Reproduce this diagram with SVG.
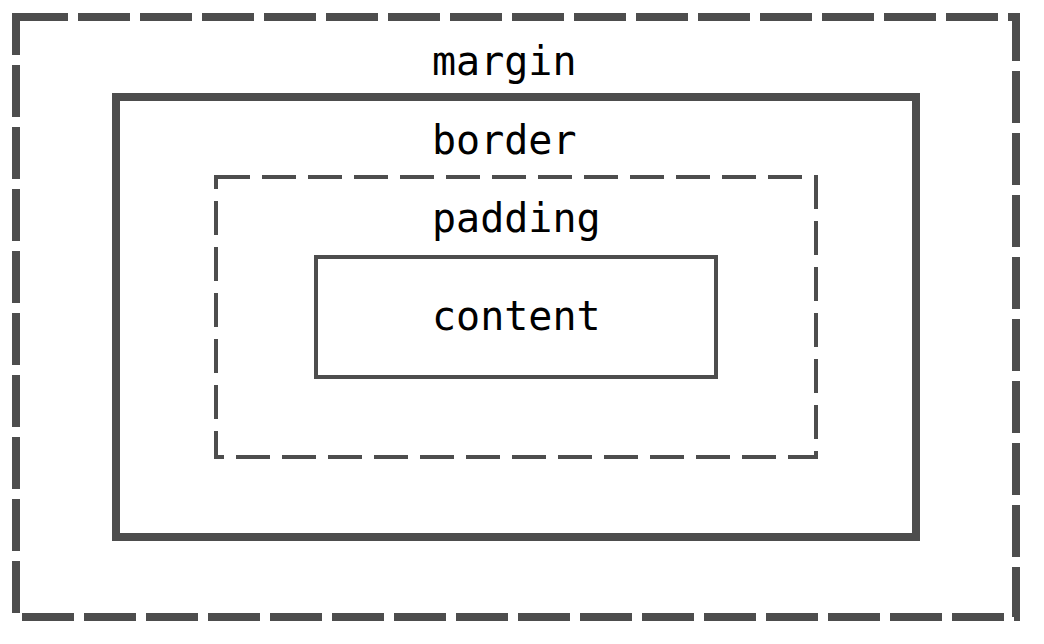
<svg xmlns="http://www.w3.org/2000/svg" width="1044" height="644" viewBox="0 0 1044 644">
<style>
.box{fill:none;stroke:#4d4d4d}
.lbl{font-family:"DejaVu Sans Mono",monospace;font-size:40px;fill:#000}
</style>
<rect width="1044" height="644" fill="#fff"/>
<g id="margin">
<rect class="box" x="16" y="17" width="1000" height="600" stroke-width="8" stroke-dasharray="52 10"/>
<text class="lbl" x="432" y="75">margin</text>
</g>
<g id="border">
<rect class="box" x="116" y="97" width="800" height="440" stroke-width="8"/>
<text class="lbl" x="432" y="154">border</text>
</g>
<g id="padding">
<rect class="box" x="216" y="177" width="600" height="280" stroke-width="4" stroke-dasharray="34 12"/>
<text class="lbl" x="432" y="232">padding</text>
</g>
<g id="content">
<rect class="box" x="316" y="257" width="400" height="120" stroke-width="4"/>
<text class="lbl" x="432" y="330">content</text>
</g>
<g id="connectors"/>
</svg>
